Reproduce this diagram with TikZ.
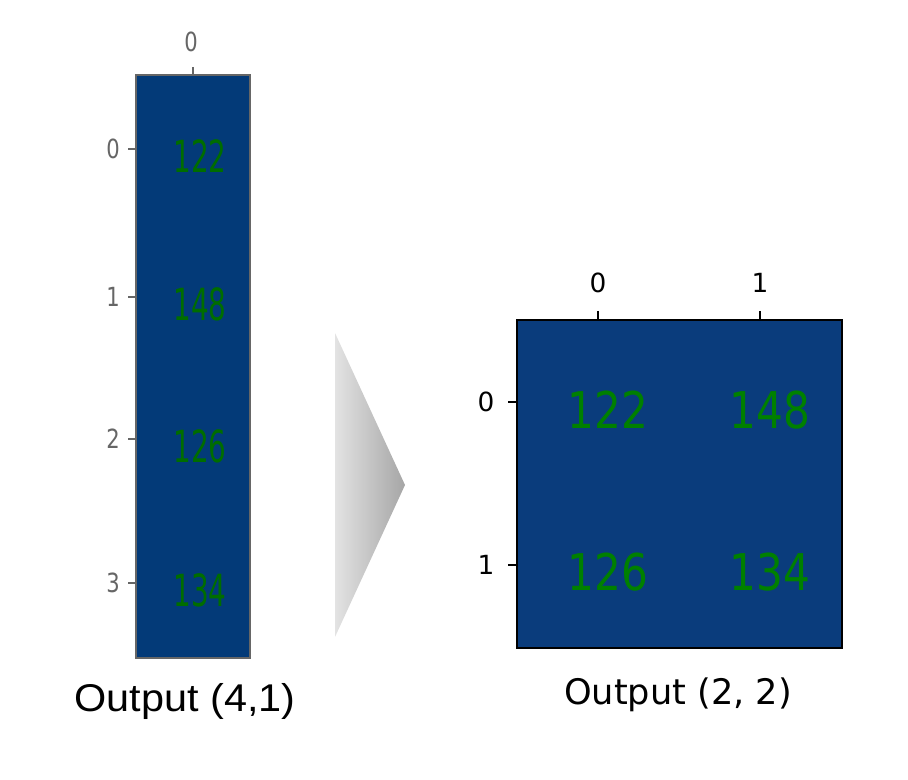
\documentclass[tikz,border=0pt]{standalone}
\usepackage{fontspec}
\setmainfont{DejaVu Sans}
\newfontfamily\capfont{Liberation Sans}
\definecolor{colblue}{HTML}{033A78}
\definecolor{matblue}{HTML}{0A3C7C}
\definecolor{valgreen}{HTML}{008000}
\begin{document}
\begin{tikzpicture}[
    x=0.01cm, y=-0.01cm,
    colval/.style={text=valgreen!85!black, font=\fontsize{12}{14}\selectfont,
      xscale=0.66, yscale=1.05, inner sep=0pt},
    matval/.style={text=valgreen, font=\fontsize{12}{14}\selectfont,
      yscale=1.2, inner sep=0pt},
    coltick/.style={text=black!60, font=\fontsize{7.5}{9}\selectfont,
      xscale=0.8, inner sep=0pt},
    mattick/.style={font=\fontsize{7.5}{9}\selectfont, inner sep=0pt},
    caption/.style={inner sep=0pt},
  ]
  \useasboundingbox (0,0) rectangle (908,780);

  % input column (4,1)
  \fill[colblue] (136,75) rectangle (250,658);
  \draw[black!60, line width=0.6pt] (136,75) rectangle (250,658);
  \draw[black!60] (193,67) -- (193,75);
  \node[coltick] (ctop) at (191,42) {0};
  \foreach \r/\y/\v in {0/149/122, 1/297/148, 2/439/126, 3/583/134} {
    \draw[black!60] (128,\y) -- (136,\y);
    \node[coltick] (crow\r) at (113,\y) {\r};
    \node[colval] (cval\r) at (200,\y+7) {\v};
  }
  \node[caption, font=\capfont\fontsize{11}{13}\selectfont, xscale=1.07]
    (capcol) at (185,702) {Output (4,1)};

  % reshape arrow
  \shade[left color=gray!22, right color=gray!70]
    (335,333) -- (405,485) -- (335,637) -- cycle;

  % output matrix (2,2)
  \fill[matblue] (517,320) rectangle (842,648);
  \draw[black, line width=0.5pt] (517,320) rectangle (842,648);
  \foreach \c/\x in {0/598, 1/760} {
    \draw (\x,311) -- (\x,320);
    \node[mattick] (mcol\c) at (\x,283) {\c};
  }
  \foreach \r/\y in {0/402, 1/565} {
    \draw (508,\y) -- (517,\y);
    \node[mattick] (mrow\r) at (486,\y) {\r};
  }
  \node[matval] (m00) at (608,410) {122};
  \node[matval] (m01) at (770,410) {148};
  \node[matval] (m10) at (608,572) {126};
  \node[matval] (m11) at (770,572) {134};
  \node[caption, font=\fontsize{10}{12}\selectfont] (capmat) at (678,695)
    {Output (2, 2)};
\end{tikzpicture}
\end{document}
